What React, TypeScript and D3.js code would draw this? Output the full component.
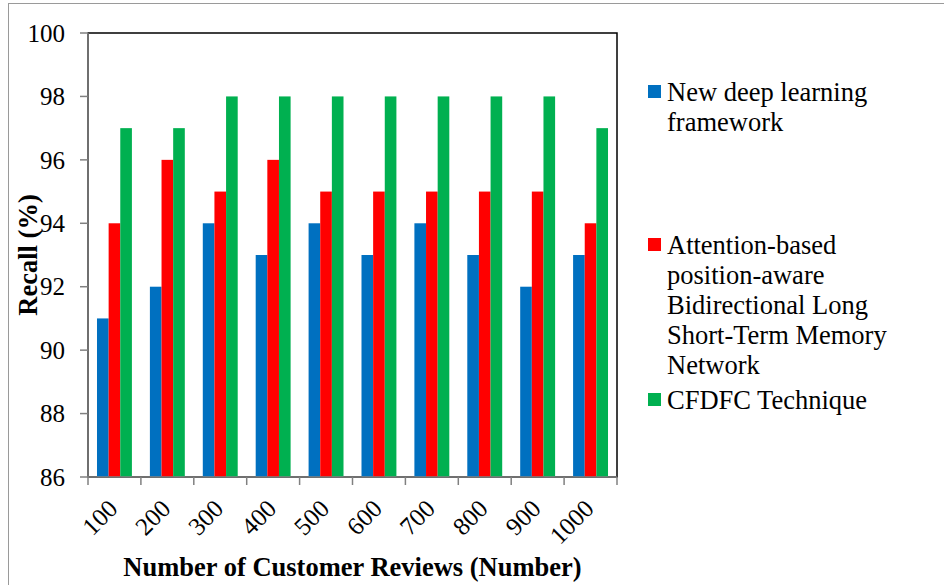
import React from "react";
import * as d3 from "d3";

const categories = ["100", "200", "300", "400", "500", "600", "700", "800", "900", "1000"];
const seriesNames = [
  "New deep learning framework",
  "Attention-based position-aware Bidirectional Long Short-Term Memory Network",
  "CFDFC Technique",
];
const newDeepLearning = [91, 92, 94, 93, 94, 93, 94, 93, 92, 93];
const attentionBiLSTM = [94, 96, 95, 96, 95, 95, 95, 95, 95, 94];
const cfdfc = [97, 97, 98, 98, 98, 98, 98, 98, 98, 97];
const yTicks = [86, 88, 90, 92, 94, 96, 98, 100];
const legendLines = [
  ["New deep learning", "framework"],
  ["Attention-based", "position-aware", "Bidirectional Long", "Short-Term Memory", "Network"],
  ["CFDFC Technique"],
];
const colors = ["#0070C0", "#FF0000", "#00B050"];

const W = 944;
const H = 585;
const L = 88, R = 617, T = 33, B = 477;
const FONT = "Liberation Serif";

export default function App() {
  const series = [newDeepLearning, attentionBiLSTM, cfdfc];
  const x0 = d3.scaleBand<string>().domain(categories).range([L, R]).paddingInner(0.34).paddingOuter(0.17);
  const x1 = d3.scaleBand<number>().domain([0, 1, 2]).range([0, x0.bandwidth()]);
  const y = d3.scaleLinear().domain([86, 100]).range([B, T]);
  const step = (R - L) / categories.length;
  const boundaries = d3.range(categories.length + 1).map((i) => L + i * step);

  const legendBaselines = [101, 254, 409];
  const lineH = 30;

  return (
    <svg width={W} height={H} style={{ position: "absolute", left: 0, top: 0, background: "#fff" }}>
      <rect x={8.5} y={3.5} width={950} height={600} fill="#fff" stroke="#9a9a9a" strokeWidth={1} />
      <rect x={L} y={T} width={R - L} height={B - T} fill="#fff" stroke="#000" strokeWidth={1.5} />
      {categories.map((c, i) => (
        <g key={c} transform={`translate(${x0(c)},0)`}>
          {series.map((s, j) => (
            <rect key={j} x={x1(j)} y={y(s[i])} width={x1.bandwidth()} height={B - y(s[i])} fill={colors[j]} />
          ))}
        </g>
      ))}
      <line x1={L} x2={L} y1={T} y2={B} stroke="#808080" strokeWidth={1.5} />
      <line x1={L} x2={R} y1={B} y2={B} stroke="#808080" strokeWidth={1.5} />
      {yTicks.map((t) => (
        <g key={t}>
          <line x1={L - 8} x2={L} y1={y(t)} y2={y(t)} stroke="#808080" strokeWidth={1.5} />
          <text x={65} y={y(t)} dy="0.35em" textAnchor="end" fontSize={25} fill="#000" fontFamily={FONT}>
            {t}
          </text>
        </g>
      ))}
      {boundaries.map((b, i) => (
        <line key={i} x1={b} x2={b} y1={B} y2={B + 8} stroke="#808080" strokeWidth={1.5} />
      ))}
      {categories.map((c) => {
        const xc = (x0(c) as number) + x0.bandwidth() / 2;
        return (
          <text
            key={c}
            transform={`translate(${xc - 1.5},${504}) rotate(-45)`}
            textAnchor="end"
            dy="0.35em"
            fontSize={25}
            fill="#000"
            fontFamily={FONT}
          >
            {c}
          </text>
        );
      })}
      <text x={(L + R) / 2} y={576} textAnchor="middle" fontSize={26.5} fontWeight="bold" fill="#000" fontFamily={FONT}>
        Number of Customer Reviews (Number)
      </text>
      <text
        transform={`translate(${37},${(T + B) / 2}) rotate(-90)`}
        textAnchor="middle"
        fontSize={26.5}
        fontWeight="bold"
        fill="#000"
        fontFamily={FONT}
      >
        Recall (%)
      </text>
      {seriesNames.map((name, j) => (
        <g key={name}>
          <rect x={648} y={legendBaselines[j] - 16} width={13} height={13} fill={colors[j]} />
          <text x={667} y={legendBaselines[j]} fontSize={26.5} fill="#000" fontFamily={FONT}>
            {legendLines[j].map((ln, k) => (
              <tspan key={k} x={667} dy={k === 0 ? 0 : lineH}>
                {ln}
              </tspan>
            ))}
          </text>
        </g>
      ))}
    </svg>
  );
}
